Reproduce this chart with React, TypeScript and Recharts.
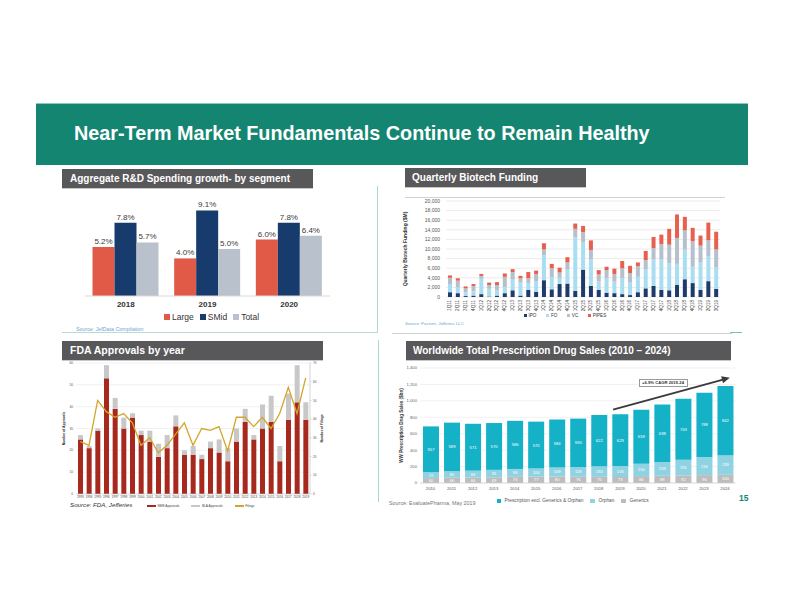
import React from 'react';
import {
  BarChart,
  Bar,
  XAxis,
  YAxis,
  CartesianGrid,
  LabelList,
  ComposedChart,
  Line,
  ReferenceLine,
} from 'recharts';

const FONT = '"Liberation Sans", Arial, Helvetica, sans-serif';
const TEAL = '#148571';

// ---------- Chart 1: Aggregate R&D Spending growth ----------
const rdYears = ['2018', '2019', '2020'];
const rdLarge = [5.2, 4.0, 6.0];
const rdSMid = [7.8, 9.1, 7.8];
const rdTotal = [5.7, 5.0, 6.4];

// ---------- Chart 2: Quarterly Biotech Funding ($M) ----------
const quarters = [
  '1Q11', '2Q11', '3Q11', '4Q11', '1Q12', '2Q12', '3Q12', '4Q12',
  '1Q13', '2Q13', '3Q13', '4Q13', '1Q14', '2Q14', '3Q14', '4Q14',
  '1Q15', '2Q15', '3Q15', '4Q15', '1Q16', '2Q16', '3Q16', '4Q16',
  '1Q17', '2Q17', '3Q17', '4Q17', '1Q18', '2Q18', '3Q18', '4Q18',
  '1Q19', '2Q19', '3Q19',
];
const fundIPO = [1000, 800, 200, 300, 600, 100, 300, 800, 1400, 300, 1500, 1100, 3500, 1600, 2700, 2800, 1300, 5700, 2300, 1500, 900, 800, 600, 400, 1000, 1800, 2300, 1500, 1400, 2500, 3700, 2900, 1500, 3300, 1700];
const fundFO = [1700, 1200, 800, 900, 3200, 1600, 1100, 1300, 2200, 2700, 1400, 2200, 5200, 2500, 1300, 2900, 11100, 5700, 5500, 1700, 3000, 2400, 3300, 2600, 3200, 4000, 5500, 6300, 5600, 4400, 6200, 3400, 5700, 5100, 4500];
const fundVC = [1300, 1400, 800, 1100, 600, 800, 1100, 2100, 1600, 900, 1000, 1500, 1200, 1900, 1100, 1500, 1800, 2100, 2000, 1500, 1700, 1600, 2100, 2000, 2200, 1900, 2400, 3200, 3900, 5400, 4000, 5300, 3500, 3400, 3700];
const fundPIPES = [500, 500, 400, 400, 400, 500, 600, 700, 600, 500, 1300, 700, 1300, 900, 1000, 1100, 1100, 1300, 2000, 900, 700, 1100, 1500, 1500, 800, 1900, 2300, 2000, 3300, 4900, 2800, 2800, 2100, 3700, 3700];
const fundTicks = [0, 2000, 4000, 6000, 8000, 10000, 12000, 14000, 16000, 18000, 20000];

// ---------- Chart 3: FDA Approvals by year ----------
const fdaYears = ['1993', '1994', '1995', '1996', '1997', '1998', '1999', '2000', '2001', '2002', '2003', '2004', '2005', '2006', '2007', '2008', '2009', '2010', '2011', '2012', '2013', '2014', '2015', '2016', '2017', '2018', '2019'];
const nmeApprovals = [25, 21, 29, 53, 39, 30, 35, 27, 24, 17, 21, 31, 18, 18, 16, 21, 19, 15, 24, 33, 25, 30, 33, 15, 34, 42, 34];
const blaApprovals = [2, 1, 1, 6, 5, 5, 2, 2, 5, 6, 6, 5, 2, 4, 2, 3, 6, 6, 6, 6, 2, 11, 12, 7, 12, 17, 8];
const filings = [28, 26, 50, 44, 41, 43, 38, 26, 30, 22, 26, 32, 38, 26, 35, 34, 36, 23, 41, 41, 36, 41, 35, 43, 57, 43, 62];
const approvalTicks = [0, 10, 20, 30, 40, 50, 60];
const filingTicks = [0, 10, 20, 30, 40, 50, 60, 70];

// ---------- Chart 4: Worldwide Total Prescription Drug Sales ($bn) ----------
const salesYears = ['2010', '2011', '2012', '2013', '2014', '2015', '2016', '2017', '2018', '2019', '2020', '2021', '2022', '2023', '2024'];
const salesGenerics = [60, 66, 66, 69, 75, 77, 80, 76, 75, 73, 84, 88, 92, 96, 100];
const salesOrphan = [72, 80, 84, 91, 96, 100, 109, 118, 130, 135, 150, 169, 191, 216, 239];
const salesRx = [557, 589, 571, 570, 586, 570, 584, 590, 622, 629, 659, 698, 743, 788, 842];
const salesTicks = [0, 200, 400, 600, 800, 1000, 1200, 1400];
const cagrStart = { year: '2019', value: 916 };
const cagrEnd = { year: '2024', value: 1266 };
const cagrLabel = '+6.9% CAGR 2019-24';

// ---------- derived tables ----------
const rdData = rdYears.map((year, i) => ({ year, large: rdLarge[i], smid: rdSMid[i], total: rdTotal[i] }));
const fundData = quarters.map((q, i) => ({ q, ipo: fundIPO[i], fo: fundFO[i], vc: fundVC[i], pipes: fundPIPES[i] }));
const fdaData = fdaYears.map((year, i) => ({ year, nme: nmeApprovals[i], bla: blaApprovals[i], filings: filings[i] }));
const salesData = salesYears.map((year, i) => ({ year, generics: salesGenerics[i], orphan: salesOrphan[i], rx: salesRx[i] }));

const fmtThousands = (v: number) => v.toLocaleString('en-US');

function Header({ left, top, width, height, text, fontSize = 10, pad = 8 }: any) {
  return (
    <div
      style={{
        position: 'absolute',
        left,
        top,
        width,
        height,
        background: '#58585A',
        color: '#fff',
        fontFamily: FONT,
        fontWeight: 700,
        fontSize,
        lineHeight: `${height}px`,
        paddingLeft: pad,
        boxSizing: 'border-box',
        whiteSpace: 'nowrap',
        boxShadow: '0 1px 0 #c8c8c8',
      }}
    >
      {text}
    </div>
  );
}

function Legend({ left, top, items, fontSize, color = '#333', gap, swatchW, swatchH, swatchGap = 2, bold = false }: any) {
  return (
    <div
      style={{
        position: 'absolute',
        left,
        top,
        display: 'flex',
        alignItems: 'center',
        gap,
        fontFamily: FONT,
        fontSize,
        color,
        whiteSpace: 'nowrap',
        lineHeight: 1,
        fontWeight: bold ? 700 : 400,
      }}
    >
      {items.map((it: any) => (
        <div key={it.label} style={{ display: 'flex', alignItems: 'center', gap: swatchGap }}>
          <div style={{ width: swatchW, height: swatchH, background: it.color }} />
          <span>{it.label}</span>
        </div>
      ))}
    </div>
  );
}

function Text({ left, top, text, fontSize, color, italic = false, bold = false }: any) {
  return (
    <div
      style={{
        position: 'absolute',
        left,
        top,
        fontFamily: FONT,
        fontSize,
        color,
        fontStyle: italic ? 'italic' : 'normal',
        fontWeight: bold ? 700 : 400,
        whiteSpace: 'nowrap',
        lineHeight: 1,
      }}
    >
      {text}
    </div>
  );
}

function Rule({ left, top, width, height, color }: any) {
  return <div style={{ position: 'absolute', left, top, width, height, background: color }} />;
}

const RotTick = (props: any) => {
  const { x, y, payload } = props;
  return (
    <text
      x={0}
      y={0}
      transform={`translate(${x},${y}) rotate(-90)`}
      textAnchor="end"
      dominantBaseline="central"
      fontSize={4.6}
      fill="#444"
      fontFamily={FONT}
    >
      {payload.value}
    </text>
  );
};

const ArrowShape = (p: any) => {
  const { x1, y1, x2, y2 } = p;
  const dx = x2 - x1;
  const dy = y2 - y1;
  const len = Math.hypot(dx, dy) || 1;
  const ux = dx / len;
  const uy = dy / len;
  const sx = x1 - ux * 7;
  const sy = y1 - uy * 7;
  const tx = x2 + ux * 5;
  const ty = y2 + uy * 5;
  const hl = 8;
  const hw = 3.6;
  const bx = tx - ux * hl;
  const by = ty - uy * hl;
  const pts = `${tx},${ty} ${bx - uy * hw},${by + ux * hw} ${bx + uy * hw},${by - ux * hw}`;
  return (
    <g>
      <line x1={sx} y1={sy} x2={bx + ux * 1} y2={by + uy * 1} stroke="#3b3b3b" strokeWidth={1.8} />
      <polygon points={pts} fill="#3b3b3b" />
    </g>
  );
};

export default function App() {
  return (
    <div
      style={{
        position: 'absolute',
        left: 0,
        top: 0,
        width: 792,
        height: 612,
        background: '#fff',
        overflow: 'hidden',
        fontFamily: FONT,
      }}
    >
      {/* Title band */}
      <div
        style={{
          position: 'absolute',
          left: 36,
          top: 103,
          width: 712,
          height: 62,
          background: TEAL,
          borderTop: '1px solid #8cc9bd',
          boxSizing: 'border-box',
        }}
      />
      <Text left={74} top={124} text="Near-Term Market Fundamentals Continue to Remain Healthy" fontSize={19.8} color="#fff" bold />

      {/* Section headers */}
      <Header left={62} top={169} width={251} height={19} text="Aggregate R&D Spending growth- by segment" fontSize={10} pad={8} />
      <Header left={405} top={168} width={181} height={19} text="Quarterly Biotech Funding" fontSize={10} pad={7} />
      <Header left={62} top={341} width={261} height={18.5} text="FDA Approvals by year" fontSize={10.5} pad={8} />
      <Header left={406} top={341} width={325} height={19} text="Worldwide Total Prescription Drug Sales (2010 – 2024)" fontSize={10} pad={7} />

      {/* Divider lines */}
      <Rule left={377} top={186} width={1.3} height={147} color="#a9d8ce" />
      <Rule left={62} top={332} width={316} height={1.2} color="#b9d9d2" />
      <Rule left={392} top={332.5} width={340} height={1} color="#c9d6d2" />
      <Rule left={730} top={332} width={12} height={1.3} color="#7cc0b2" />
      <Rule left={377.5} top={340} width={1.3} height={162} color="#a9d8ce" />
      <Rule left={405} top={196.5} width={320} height={1} color="#d3d3d3" />

      {/* ---------- Chart 1 ---------- */}
      <div style={{ position: 'absolute', left: 62, top: 195 }}>
        <BarChart
          width={280}
          height={115}
          data={rdData}
          margin={{ top: 7, right: 12, bottom: 0, left: 23 }}
          barGap={0}
          barCategoryGap={7.5}
        >
          <XAxis
            dataKey="year"
            height={14}
            tickLine={false}
            axisLine={{ stroke: '#d9d9d9' }}
            tickSize={4}
            tickMargin={1}
            tick={{ fontSize: 8, fontWeight: 700, fill: '#333', fontFamily: FONT }}
          />
          <YAxis hide domain={[0, 10]} />
          <Bar dataKey="large" fill="#E05A47" isAnimationActive={false}>
            <LabelList dataKey="large" position="top" offset={3} formatter={(v: any) => `${Number(v).toFixed(1)}%`} fontSize={8} fill="#3a3a3a" fontFamily={FONT} />
          </Bar>
          <Bar dataKey="smid" fill="#173B6C" isAnimationActive={false}>
            <LabelList dataKey="smid" position="top" offset={3} formatter={(v: any) => `${Number(v).toFixed(1)}%`} fontSize={8} fill="#3a3a3a" fontFamily={FONT} />
          </Bar>
          <Bar dataKey="total" fill="#B8C1CC" isAnimationActive={false}>
            <LabelList dataKey="total" position="top" offset={3} formatter={(v: any) => `${Number(v).toFixed(1)}%`} fontSize={8} fill="#3a3a3a" fontFamily={FONT} />
          </Bar>
        </BarChart>
      </div>
      <Legend
        left={164}
        top={313}
        fontSize={8.5}
        gap={6}
        swatchW={6}
        swatchH={6}
        swatchGap={2}
        items={[
          { label: 'Large', color: '#E05A47' },
          { label: 'SMid', color: '#173B6C' },
          { label: 'Total', color: '#B8C1CC' },
        ]}
      />
      <Text left={76} top={326.5} text="Source: JefData Compilation" fontSize={5.3} color="#6FA3D6" />

      {/* ---------- Chart 2 ---------- */}
      <div style={{ position: 'absolute', left: 395, top: 195 }}>
        <BarChart
          width={330}
          height={120}
          data={fundData}
          margin={{ top: 6, right: 5, bottom: 0, left: 0 }}
          barSize={4}
        >
          <CartesianGrid vertical={false} stroke="#e6e6e6" strokeWidth={0.8} />
          <XAxis
            dataKey="q"
            interval={0}
            height={18}
            tickLine={false}
            axisLine={false}
            tickSize={2}
            tickMargin={1}
            tick={<RotTick />}
          />
          <YAxis
            width={51}
            domain={[0, 20000]}
            ticks={fundTicks}
            interval={0}
            tickFormatter={fmtThousands}
            tickLine={false}
            axisLine={false}
            tickSize={4}
            tickMargin={2}
            tick={{ fontSize: 5, fill: '#555', fontFamily: FONT }}
            label={{
              value: 'Quarterly Biotech Funding ($M)',
              angle: -90,
              position: 'insideLeft',
              offset: 10,
              style: { textAnchor: 'middle', fontSize: 5, fontWeight: 700, fill: '#333', fontFamily: FONT },
            }}
          />
          <Bar dataKey="ipo" stackId="f" fill="#1E3B6B" isAnimationActive={false} />
          <Bar dataKey="fo" stackId="f" fill="#A9DDF1" isAnimationActive={false} />
          <Bar dataKey="vc" stackId="f" fill="#B5C0CC" isAnimationActive={false} />
          <Bar dataKey="pipes" stackId="f" fill="#E7604D" isAnimationActive={false} />
        </BarChart>
      </div>
      <Legend
        left={524}
        top={313.5}
        fontSize={4.6}
        gap={10}
        swatchW={3}
        swatchH={3}
        swatchGap={1.5}
        color="#333"
        items={[
          { label: 'IPO', color: '#1E3B6B' },
          { label: 'FO', color: '#A9DDF1' },
          { label: 'VC', color: '#B5C0CC' },
          { label: 'PIPES', color: '#E7604D' },
        ]}
      />
      <Text left={405} top={321.5} text="Source: Factset, Jefferies LLC" fontSize={4.4} color="#6FA3D6" />

      {/* ---------- Chart 3 ---------- */}
      <div style={{ position: 'absolute', left: 60, top: 357 }}>
        <ComposedChart
          width={270}
          height={145}
          data={fdaData}
          margin={{ top: 6, right: 4, bottom: 0, left: 0 }}
          barSize={5}
        >
          <CartesianGrid vertical={false} stroke="#eeeeee" strokeWidth={0.8} yAxisId="left" />
          <XAxis
            dataKey="year"
            interval={0}
            height={8}
            tickLine={false}
            axisLine={{ stroke: '#cfcfcf', strokeWidth: 0.6 }}
            tickSize={2}
            tickMargin={0}
            tick={{ fontSize: 3.1, fill: '#444', fontFamily: FONT }}
          />
          <YAxis
            yAxisId="left"
            width={16}
            domain={[0, 60]}
            ticks={approvalTicks}
            interval={0}
            tickLine={false}
            axisLine={false}
            tickSize={1}
            tickMargin={2}
            tick={{ fontSize: 3.2, fill: '#555', fontFamily: FONT }}
            label={{
              value: 'Number of Approvals',
              angle: -90,
              position: 'insideLeft',
              offset: 4,
              style: { textAnchor: 'middle', fontSize: 3.3, fontWeight: 700, fill: '#333', fontFamily: FONT },
            }}
          />
          <YAxis
            yAxisId="right"
            orientation="right"
            width={16}
            domain={[0, 70]}
            ticks={filingTicks}
            interval={0}
            tickLine={{ stroke: '#bbb', strokeWidth: 0.5 }}
            axisLine={{ stroke: '#bbb', strokeWidth: 0.6 }}
            tickSize={1.5}
            tickMargin={1.5}
            tick={{ fontSize: 3.2, fill: '#555', fontFamily: FONT }}
            label={{
              value: 'Number of Filings',
              angle: -90,
              position: 'insideRight',
              offset: 4,
              style: { textAnchor: 'middle', fontSize: 3.3, fontWeight: 700, fill: '#333', fontFamily: FONT },
            }}
          />
          <Bar yAxisId="left" dataKey="nme" stackId="a" fill="#A7281D" isAnimationActive={false} />
          <Bar yAxisId="left" dataKey="bla" stackId="a" fill="#C8C8C8" isAnimationActive={false} />
          <Line
            yAxisId="right"
            type="linear"
            dataKey="filings"
            stroke="#D3A52B"
            strokeWidth={1.3}
            dot={false}
            isAnimationActive={false}
          />
        </ComposedChart>
      </div>
      <Text left={70} top={502} text="Source: FDA, Jefferies" fontSize={6.2} color="#333" italic />
      <Legend
        left={147}
        top={504.5}
        fontSize={3.2}
        gap={12}
        swatchW={9}
        swatchH={1.8}
        swatchGap={1.5}
        color="#444"
        items={[
          { label: 'NME Approvals', color: '#A7281D' },
          { label: 'BLA Approvals', color: '#C8C8C8' },
          { label: 'Filings', color: '#D3A52B' },
        ]}
      />

      {/* ---------- Chart 4 ---------- */}
      <div style={{ position: 'absolute', left: 395, top: 362 }}>
        <BarChart
          width={345}
          height={131}
          data={salesData}
          margin={{ top: 6, right: 4.5, bottom: 0, left: 0 }}
          barSize={16}
        >
          <CartesianGrid vertical={false} stroke="#eeeeee" strokeWidth={0.8} />
          <XAxis
            dataKey="year"
            interval={0}
            height={10}
            tickLine={false}
            axisLine={{ stroke: '#d0d0d0', strokeWidth: 0.6 }}
            tickSize={3}
            tickMargin={1}
            tick={{ fontSize: 4.2, fill: '#555', fontFamily: FONT }}
          />
          <YAxis
            width={25}
            domain={[0, 1400]}
            ticks={salesTicks}
            interval={0}
            tickFormatter={fmtThousands}
            tickLine={false}
            axisLine={false}
            tickSize={1}
            tickMargin={2}
            tick={{ fontSize: 4.2, fill: '#666', fontFamily: FONT }}
            label={{
              value: 'WW Prescription Drug Sales ($bn)',
              angle: -90,
              position: 'insideLeft',
              offset: 6,
              style: { textAnchor: 'middle', fontSize: 4.6, fontWeight: 700, fill: '#333', fontFamily: FONT },
            }}
          />
          <Bar dataKey="generics" stackId="s" fill="#BDBDBD" isAnimationActive={false}>
            <LabelList dataKey="generics" position="center" fill="#fff" fontSize={4.2} fontFamily={FONT} />
          </Bar>
          <Bar dataKey="orphan" stackId="s" fill="#8FD2E2" isAnimationActive={false}>
            <LabelList dataKey="orphan" position="center" fill="#fff" fontSize={4.2} fontFamily={FONT} />
          </Bar>
          <Bar dataKey="rx" stackId="s" fill="#14B1C7" isAnimationActive={false}>
            <LabelList dataKey="rx" position="center" fill="#fff" fontSize={4.2} fontFamily={FONT} />
          </Bar>
          <ReferenceLine
            segment={[
              { x: cagrStart.year, y: cagrStart.value },
              { x: cagrEnd.year, y: cagrEnd.value },
            ]}
            shape={ArrowShape}
          />
        </BarChart>
      </div>
      <div
        style={{
          position: 'absolute',
          left: 638.5,
          top: 379.3,
          width: 49,
          height: 7.4,
          border: '0.6px solid #9a9a9a',
          background: '#fff',
          boxSizing: 'border-box',
          fontFamily: FONT,
          fontSize: 4.2,
          fontWeight: 700,
          color: '#333',
          textAlign: 'center',
          lineHeight: '6.4px',
          whiteSpace: 'nowrap',
        }}
      >
        {cagrLabel}
      </div>
      <Legend
        left={496.5}
        top={498.5}
        fontSize={4.8}
        gap={7}
        swatchW={4.5}
        swatchH={4.5}
        swatchGap={3.5}
        color="#555"
        items={[
          { label: 'Prescription excl. Generics & Orphan', color: '#14B1C7' },
          { label: 'Orphan', color: '#8FD2E2' },
          { label: 'Generics', color: '#BDBDBD' },
        ]}
      />
      <Text left={389} top={501} text="Source: EvaluatePharma, May 2019" fontSize={5.4} color="#777" />

      {/* Page number */}
      <Text left={739} top={493.5} text="15" fontSize={8.5} color={TEAL} bold />
    </div>
  );
}
